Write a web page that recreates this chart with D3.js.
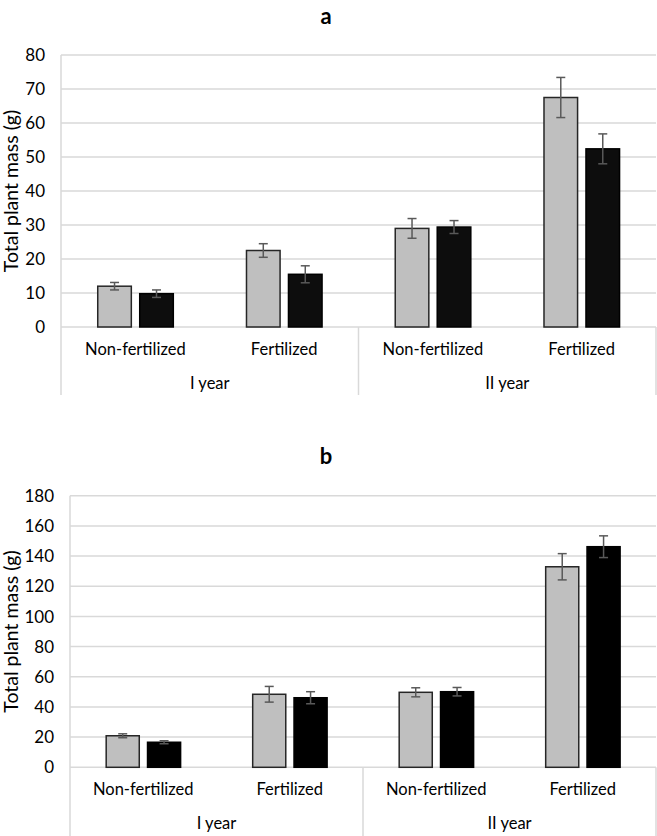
<!DOCTYPE html>
<html>
<head>
<meta charset="utf-8">
<script src="https://cdn.jsdelivr.net/npm/d3@7"></script>
<style>
  body { margin: 0; background: #fff; }
  text { font-family: Lato, "Open Sans", sans-serif; fill: #000; }
</style>
</head>
<body>
<div id="chart"></div>
<script>
// categories on the x axis (two levels)
const categories = ["Non-fertilized", "Fertilized", "Non-fertilized", "Fertilized"];
const years = ["I year", "II year"];
const series = ["grey", "black"];

// panel a values (g) and error bars
const massA_grey  = [12.0, 22.5, 29.0, 67.5];
const errA_grey   = [1.1, 2.0, 2.9, 5.9];
const massA_black = [9.8, 15.5, 29.4, 52.4];
const errA_black  = [1.1, 2.5, 1.9, 4.4];

// panel b values (g) and error bars
const massB_grey  = [20.9, 48.4, 49.7, 132.9];
const errB_grey   = [1.3, 5.2, 3.0, 8.7];
const massB_black = [16.6, 46.1, 50.1, 146.2];
const errB_black  = [1.0, 4.0, 2.8, 7.2];

const ticksA = [0, 10, 20, 30, 40, 50, 60, 70, 80];
const ticksB = [0, 20, 40, 60, 80, 100, 120, 140, 160, 180];

var W = 657, H = 836;
var svg = d3.select("#chart").append("svg")
  .attr("width", W)
  .attr("height", H);

const fills = { grey: "#bfbfbf", black: "#0d0d0d" };

function drawPanel(opt) {
  var g = svg.append("g");
  var left = opt.left, right = 656, top = opt.top, bottom = opt.bottom;

  var y = d3.scaleLinear().domain([0, opt.ticks[opt.ticks.length - 1]]).range([bottom, top]);
  var x = d3.scaleBand().domain(d3.range(categories.length)).range([left, right]).padding(0);
  var w = x.bandwidth();
  var xs = d3.scaleBand().domain(series).range([0.247 * w, 0.755 * w]).paddingInner(0.2);

  // title
  g.append("text")
    .attr("x", 326).attr("y", opt.titleY)
    .attr("text-anchor", "middle")
    .style("font-weight", "bold").style("font-size", "22px")
    .text(opt.title);

  // gridlines
  g.selectAll(".grid").data(opt.ticks).enter().append("line")
    .attr("x1", left).attr("x2", right)
    .attr("y1", d => y(d)).attr("y2", d => y(d))
    .attr("stroke", "#d9d9d9").attr("stroke-width", 1.5);

  // y tick labels
  g.selectAll(".ytick").data(opt.ticks).enter().append("text")
    .attr("x", left - 16).attr("y", d => y(d))
    .attr("dy", "0.36em")
    .attr("text-anchor", "end")
    .style("font-size", "17px")
    .text(d => d);

  // y title
  g.append("text")
    .attr("transform", "translate(18," + ((top + bottom) / 2) + ") rotate(-90)")
    .attr("text-anchor", "middle")
    .style("font-size", "19.5px")
    .text("Total plant mass (g)");

  // category axis frame
  var axBottom = opt.axisBottom;
  g.append("line")
    .attr("x1", left).attr("x2", left).attr("y1", top).attr("y2", axBottom)
    .attr("stroke", "#d9d9d9").attr("stroke-width", 1.5);
  [x(2), right].forEach(function(xx) {
    g.append("line")
      .attr("x1", xx).attr("x2", xx).attr("y1", bottom).attr("y2", axBottom)
      .attr("stroke", "#d9d9d9").attr("stroke-width", 1.5);
  });

  g.selectAll(".cat").data(categories).enter().append("text")
    .attr("x", (d, i) => x(i) + w / 2)
    .attr("y", bottom + 28)
    .attr("text-anchor", "middle")
    .style("font-size", "16.5px")
    .text(d => d);

  g.selectAll(".year").data(years).enter().append("text")
    .attr("x", (d, i) => x(i * 2) + w)
    .attr("y", bottom + 62)
    .attr("text-anchor", "middle")
    .style("font-size", "16.5px")
    .text(d => d);

  // bars
  var rows = [];
  categories.forEach(function(c, i) {
    series.forEach(function(s) {
      rows.push({ i: i, s: s, v: opt.values[s][i], e: opt.errors[s][i] });
    });
  });

  g.selectAll(".bar").data(rows).enter().append("rect")
    .attr("x", d => x(d.i) + xs(d.s))
    .attr("y", d => y(d.v))
    .attr("width", xs.bandwidth())
    .attr("height", d => bottom - y(d.v))
    .attr("fill", d => d.s == "black" ? opt.blackFill : fills.grey)
    .attr("stroke", d => d.s == "black" ? "#000" : "#262626")
    .attr("stroke-width", 1.5);

  // error bars
  var eb = g.selectAll(".err").data(rows).enter().append("g")
    .attr("stroke", "#595959").attr("stroke-width", 1.5);
  eb.append("line")
    .attr("x1", d => x(d.i) + xs(d.s) + xs.bandwidth() / 2)
    .attr("x2", d => x(d.i) + xs(d.s) + xs.bandwidth() / 2)
    .attr("y1", d => y(d.v - d.e)).attr("y2", d => y(d.v + d.e));
  [1, -1].forEach(function(sign) {
    eb.append("line")
      .attr("x1", d => x(d.i) + xs(d.s) + xs.bandwidth() / 2 - 4.5)
      .attr("x2", d => x(d.i) + xs(d.s) + xs.bandwidth() / 2 + 4.5)
      .attr("y1", d => y(d.v + sign * d.e)).attr("y2", d => y(d.v + sign * d.e));
  });
}

drawPanel({
  title: "a", titleY: 24,
  left: 61, top: 55, bottom: 327, axisBottom: 395,
  ticks: ticksA,
  values: { grey: massA_grey, black: massA_black },
  errors: { grey: errA_grey, black: errA_black },
  blackFill: "#0d0d0d"
});

drawPanel({
  title: "b", titleY: 464,
  left: 70, top: 495.7, bottom: 767.3, axisBottom: 836,
  ticks: ticksB,
  values: { grey: massB_grey, black: massB_black },
  errors: { grey: errB_grey, black: errB_black },
  blackFill: "#000"
});
</script>
</body>
</html>
